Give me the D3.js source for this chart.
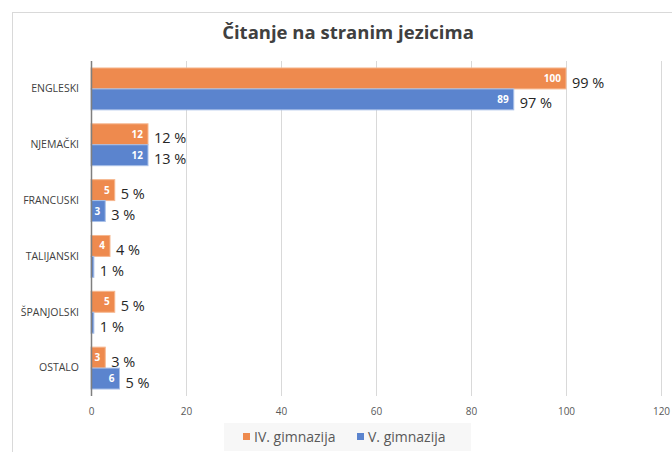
<!DOCTYPE html>
<html>
<head>
<meta charset="utf-8">
<script src="https://cdn.jsdelivr.net/npm/d3@7"></script>
<style>
  body { margin: 0; background: #fff; }
  svg { display: block; }
  text { font-family: "Open Sans", "Noto Sans", sans-serif; }
</style>
</head>
<body>
<div id="chart"></div>
<script>
  // Data
  var categories = ["ENGLESKI", "NJEMAČKI", "FRANCUSKI", "TALIJANSKI", "ŠPANJOLSKI", "OSTALO"];
  var seriesNames = ["IV. gimnazija", "V. gimnazija"];
  var valuesIV = [100, 12, 5, 4, 5, 3];
  var valuesV = [89, 12, 3, 0.6, 0.6, 6];
  var percentIV = [99, 12, 5, 4, 5, 3];
  var percentV = [97, 13, 3, 1, 1, 5];
  var xTicks = [0, 20, 40, 60, 80, 100, 120];

  var colors = ["#EE8A4E", "#5B84CE"];
  var strokes = ["#F6B78F", "#A9C0E8"];

  var width = 672, height = 452;
  var margin = { top: 61, right: 11, bottom: 56, left: 91 };
  var innerW = width - margin.left - margin.right;
  var innerH = height - margin.top - margin.bottom;

  var svg = d3.select("#chart").append("svg")
    .attr("width", width)
    .attr("height", height);

  // chart frame
  svg.append("rect")
    .attr("x", 12.5).attr("y", 12.5)
    .attr("width", width).attr("height", height)
    .attr("fill", "#fff")
    .attr("stroke", "#d9d9d9");

  svg.append("text")
    .attr("x", 348).attr("y", 39)
    .attr("text-anchor", "middle")
    .attr("font-size", 18.5)
    .attr("font-weight", "bold")
    .attr("fill", "#404040")
    .text("Čitanje na stranim jezicima");

  var x = d3.scaleLinear().domain([0, 120]).range([0, innerW]);
  var y = d3.scaleBand().domain(categories).range([0, innerH])
    .paddingInner(0.25).paddingOuter(0.125);
  var sub = d3.scaleBand().domain([0, 1]).range([0, y.bandwidth()]);

  var g = svg.append("g")
    .attr("transform", "translate(" + margin.left + "," + margin.top + ")");

  // gridlines
  g.append("g").selectAll("line")
    .data(xTicks.slice(1))
    .enter().append("line")
    .attr("x1", function(d) { return Math.round(x(d)) + 0.5; })
    .attr("x2", function(d) { return Math.round(x(d)) + 0.5; })
    .attr("y1", 0).attr("y2", innerH)
    .attr("stroke", "#d9d9d9");

  // x axis labels
  var xAxis = g.append("g")
    .attr("transform", "translate(0," + innerH + ")")
    .call(d3.axisBottom(x).tickValues(xTicks).tickSize(0).tickPadding(12));
  xAxis.select(".domain").remove();
  xAxis.selectAll("text")
    .attr("font-family", "'Open Sans', sans-serif")
    .attr("font-size", 10)
    .attr("fill", "#595959");

  // category labels
  var yAxis = g.append("g")
    .call(d3.axisLeft(y).tickSize(0).tickPadding(12));
  yAxis.select(".domain").remove();
  yAxis.selectAll("text")
    .attr("font-family", "'Open Sans', sans-serif")
    .attr("font-size", 10.5)
    .attr("fill", "#404040");

  var scenes = [];
  categories.forEach(function(c, i) {
    scenes.push({ cat: c, s: 0, value: valuesIV[i], pct: percentIV[i] });
    scenes.push({ cat: c, s: 1, value: valuesV[i], pct: percentV[i] });
  });

  var barY = function(d) { return y(d.cat) + sub(d.s); };

  g.selectAll(".bar")
    .data(scenes)
    .enter().append("rect")
    .attr("class", "bar")
    .attr("x", x(0))
    .attr("y", barY)
    .attr("width", function(d) { return x(d.value); })
    .attr("height", sub.bandwidth())
    .attr("fill", function(d) { return colors[d.s]; })
    .attr("stroke", function(d) { return strokes[d.s]; })
    .attr("stroke-width", 1);

  // value labels inside the bars
  g.selectAll(".inner")
    .data(scenes.filter(function(d) { return x(d.value) > 10; }))
    .enter().append("text")
    .attr("x", function(d) { return x(d.value) - 5; })
    .attr("y", function(d) { return barY(d) + sub.bandwidth() / 2; })
    .attr("dy", "0.35em")
    .attr("text-anchor", "end")
    .attr("font-size", 10)
    .attr("font-weight", "bold")
    .attr("fill", "#fff")
    .text(function(d) { return d.value; });

  // percentage labels
  g.selectAll(".pct")
    .data(scenes)
    .enter().append("text")
    .attr("x", function(d) { return x(d.value) + 6; })
    .attr("y", function(d) { return barY(d) + sub.bandwidth() / 2 + 4; })
    .attr("dy", "0.35em")
    .attr("font-size", 14.5)
    .attr("fill", "#262626")
    .text(function(d) { return d.pct + " %"; });

  // axis line
  g.append("line")
    .attr("x1", 0.5).attr("x2", 0.5)
    .attr("y1", 0).attr("y2", innerH)
    .attr("stroke", "#7f7f7f")
    .attr("stroke-width", 1.5);

  // legend
  var legend = svg.append("g");
  legend.append("rect")
    .attr("x", 224).attr("y", 423)
    .attr("width", 247).attr("height", 28)
    .attr("fill", "#f7f7f7");
  var items = [{ x: 243 }, { x: 357 }];
  items.forEach(function(it, i) {
    legend.append("rect")
      .attr("x", it.x).attr("y", 433)
      .attr("width", 7).attr("height", 7)
      .attr("fill", colors[i]);
    legend.append("text")
      .attr("x", it.x + 11).attr("y", 437)
      .attr("dy", "0.35em")
      .attr("font-size", 14)
      .attr("fill", "#595959")
      .text(seriesNames[i]);
  });
</script>
</body>
</html>
